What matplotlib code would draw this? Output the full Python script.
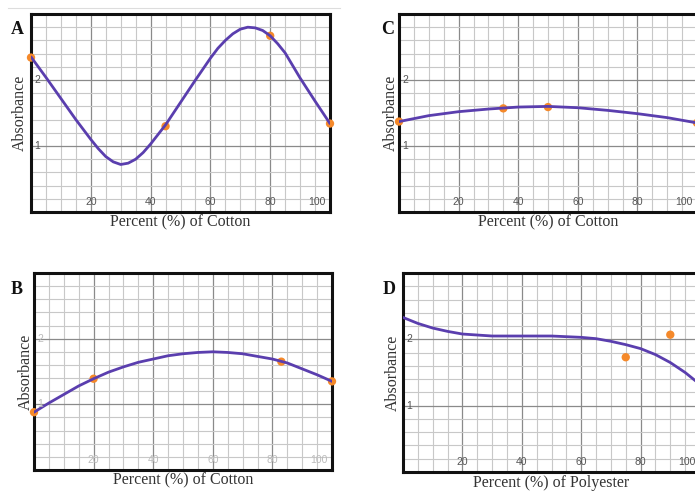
import matplotlib
matplotlib.use("Agg")
import matplotlib.pyplot as plt
from matplotlib.ticker import MultipleLocator

# ---------------- data ----------------
# Panel A (Percent of Cotton)
a_curve_x = [0, 5, 10, 15, 20, 22.5, 25, 27.5, 30, 32.5, 35, 37.5, 40, 45, 50, 55, 60, 62.5, 65, 67.5,
             70, 72.5, 75, 77.5, 80, 82.5, 85, 90, 95, 100]
a_curve_y = [2.35, 2.04, 1.72, 1.40, 1.10, 0.96, 0.84, 0.76, 0.72, 0.74, 0.80, 0.90, 1.03, 1.32, 1.66, 2.00,
             2.33, 2.48, 2.60, 2.70, 2.77, 2.80, 2.79, 2.75, 2.67, 2.55, 2.41, 2.03, 1.68, 1.34]
a_pts_x = [0, 45, 80, 100]
a_pts_y = [2.34, 1.30, 2.67, 1.34]

# Panel B (Percent of Cotton)
b_curve_x = [0, 5, 10, 15, 20, 25, 30, 35, 40, 45, 50, 55, 60, 65, 70, 75, 80, 85, 90, 95, 100]
b_curve_y = [0.88, 1.02, 1.15, 1.28, 1.39, 1.49, 1.57, 1.64, 1.69, 1.74, 1.77, 1.79, 1.80, 1.79, 1.77, 1.73, 1.69, 1.63, 1.54, 1.45, 1.35]
b_pts_x = [0, 20, 83, 100]
b_pts_y = [0.88, 1.39, 1.65, 1.35]

# Panel C (Percent of Cotton)
c_curve_x = [0, 10, 20, 30, 40, 50, 60, 70, 80, 90, 100]
c_curve_y = [1.37, 1.46, 1.52, 1.56, 1.59, 1.60, 1.58, 1.54, 1.49, 1.43, 1.35]
c_pts_x = [0, 35, 50, 100]
c_pts_y = [1.37, 1.57, 1.59, 1.35]

# Panel D (Percent of Polyester)
d_curve_x = [0, 5, 10, 15, 20, 30, 40, 50, 55, 60, 65, 70, 75, 80, 85, 90, 95, 100]
d_curve_y = [2.33, 2.24, 2.17, 2.12, 2.08, 2.05, 2.05, 2.05, 2.04, 2.03, 2.01, 1.97, 1.92, 1.86, 1.77, 1.65, 1.50, 1.32]
d_pts_x = [75, 90]
d_pts_y = [1.73, 2.07]

x_ticks = [20, 40, 60, 80, 100]
y_ticks = [1, 2]

LINE = "#5a3eae"
DOT = "#f5892a"
SERIF = ["Liberation Serif", "DejaVu Serif"]
SANS = ["Liberation Sans", "DejaVu Sans"]

fig = plt.figure(figsize=(6.95, 4.91), dpi=100)
W, H = 695, 491


def px_axes(l, t, r, b):
    return fig.add_axes([l / W, (H - b) / H, (r - l) / W, (b - t) / H])


def panel(rect, letter, letter_xy, cx, cy, px, py, xlabel, ylabel_x, xlabel_y, tick_color):
    ax = px_axes(*rect)
    ax.set_xlim(0, 100)
    ax.set_ylim(0, 3)
    ax.xaxis.set_major_locator(MultipleLocator(20))
    ax.xaxis.set_minor_locator(MultipleLocator(5))
    ax.yaxis.set_major_locator(MultipleLocator(1))
    ax.yaxis.set_minor_locator(MultipleLocator(0.2))
    ax.grid(which="minor", color="#c8c8c8", lw=0.8)
    ax.grid(which="major", color="#8a8a8a", lw=0.9)
    ax.set_axisbelow(True)
    ax.tick_params(which="both", length=0, labelbottom=False, labelleft=False)
    for s in ax.spines.values():
        s.set_linewidth(2.2)
        s.set_color("#111111")
    ax.scatter(px, py, s=36, color=DOT, zorder=3, clip_on=False, edgecolors="none")
    ax.plot(cx, cy, color=LINE, lw=2.0, zorder=4, solid_capstyle="round", solid_joinstyle="round")
    # tick labels inside the plot area
    for xv in x_ticks:
        if xv == 100:
            ax.text(98.5, 0.07, str(xv), ha="right", va="bottom", fontsize=7.5, color=tick_color,
                    family=SANS, zorder=5)
        else:
            ax.text(xv, 0.07, str(xv), ha="center", va="bottom", fontsize=7.5, color=tick_color,
                    family=SANS, zorder=5)
    for yv in y_ticks:
        ax.text(1.0, yv, str(yv), ha="left", va="center", fontsize=7.5, color=tick_color,
                family=SANS, zorder=5)
    l, t, r, b = rect
    fig.text(ylabel_x / W, 1 - ((t + b) / 2) / H, "Absorbance", rotation=90, ha="center", va="center",
             fontsize=11.5, color="#333333", family=SERIF)
    fig.text(((l + r) / 2) / W, 1 - xlabel_y / H, xlabel, ha="center", va="center",
             fontsize=11.5, color="#333333", family=SERIF)
    fig.text(letter_xy[0] / W, 1 - letter_xy[1] / H, letter, ha="center", va="center",
             fontsize=13, fontweight="bold", color="#111111", family=SERIF)
    return ax


# light separator line at the top
fig.add_artist(plt.Line2D([8 / W, 340 / W], [1 - 8 / H, 1 - 8 / H], color="#dddddd", lw=0.8))

panel((31, 14, 330, 212), "A", (17, 30), a_curve_x, a_curve_y, a_pts_x, a_pts_y,
      "Percent (%) of Cotton", 20, 222, "#555555")
panel((399, 14, 697, 212), "C", (388, 29), c_curve_x, c_curve_y, c_pts_x, c_pts_y,
      "Percent (%) of Cotton", 391, 222, "#555555")
panel((34, 273, 332, 470), "B", (17, 290), b_curve_x, b_curve_y, b_pts_x, b_pts_y,
      "Percent (%) of Cotton", 26, 480, "#bbbbbb")
panel((403, 273, 700, 472), "D", (389, 290), d_curve_x, d_curve_y, d_pts_x, d_pts_y,
      "Percent (%) of Polyester", 393, 483, "#555555")

fig.savefig("out.png", dpi=100)
